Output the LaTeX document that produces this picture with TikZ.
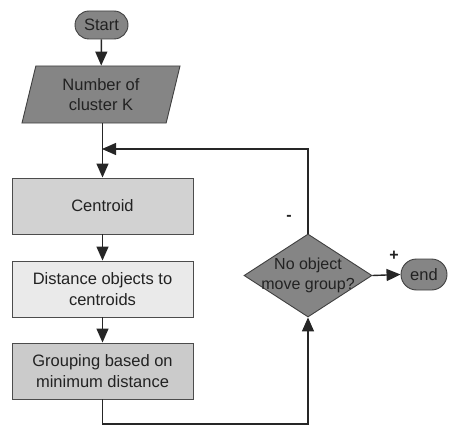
\documentclass[tikz,border=0pt]{standalone}
\usepackage{fontspec}
\setmainfont{Liberation Sans}
\usetikzlibrary{shapes.geometric,shapes.misc,arrows.meta}
\definecolor{dk}{HTML}{858585}
\definecolor{cA}{HTML}{D2D2D2}
\definecolor{cB}{HTML}{EAEAEA}
\definecolor{cC}{HTML}{CBCBCB}
\definecolor{txt}{HTML}{222222}
\begin{document}
\begin{tikzpicture}[x=1pt,y=-1pt,
  font=\fontsize{16.5}{20.5}\selectfont,
  every node/.style={text=txt},
  pill/.style={rounded rectangle, draw=black!75, line width=0.9pt, fill=dk, minimum width=53pt, minimum height=28pt, inner sep=0pt},
  para/.style={trapezium, trapezium left angle=67, trapezium right angle=113, trapezium stretches body, draw=black!75, line width=0.9pt, fill=dk, minimum width=158pt, minimum height=57pt, inner sep=0pt, align=center},
  procbox/.style={rectangle, draw=black!70, line width=0.9pt, minimum width=181pt, minimum height=56pt, inner sep=0pt, align=center},
  dia/.style={diamond, draw=black!75, line width=0.9pt, fill=dk, minimum width=128pt, minimum height=83pt, inner sep=0pt},
  conn/.style={line width=1.4pt, draw=black!85},
  arr/.style={conn, -{Triangle[length=14pt,width=12pt]}}
]
\useasboundingbox (0,0) rectangle (449,425);
\node[pill] (start) at (101.5,25) {Start};
\node[para] (num) at (101,94.5) {Number of\\cluster K};
\node[procbox, fill=cA] (cen) at (102.5,206) {Centroid};
\node[procbox, fill=cB] (dist) at (102.5,289) {Distance objects to\\centroids};
\node[procbox, fill=cC] (grp) at (102.5,371) {Grouping based on\\minimum distance};
\node[dia] (dec) at (308,275.5) {};
\node[align=center, inner sep=0pt, font=\fontsize{16}{20}\selectfont] (dectext) at (dec.center) {No object\\move group?};
\node[pill, minimum width=46pt, minimum height=31pt] (end) at (424,274.5) {end};
\coordinate (j) at (102,149);
\coordinate (br) at (308,424);
\node[font=\bfseries\fontsize{16}{20}\selectfont] (minus) at (289,218) {-};
\node[font=\bfseries\fontsize{16}{20}\selectfont] (plus) at (394,256) {+};
\draw[arr] (start) -- (num);
\draw[arr] (num.south -| cen.north) -- (cen.north);
\draw[arr] (cen) -- (dist);
\draw[arr] (dist) -- (grp);
\draw[arr] (grp.south) |- (br) -- (dec.south);
\draw[arr] (dec.north) |- (j);
\draw[arr] (dec.east) -- (end.west);
\end{tikzpicture}
\end{document}
